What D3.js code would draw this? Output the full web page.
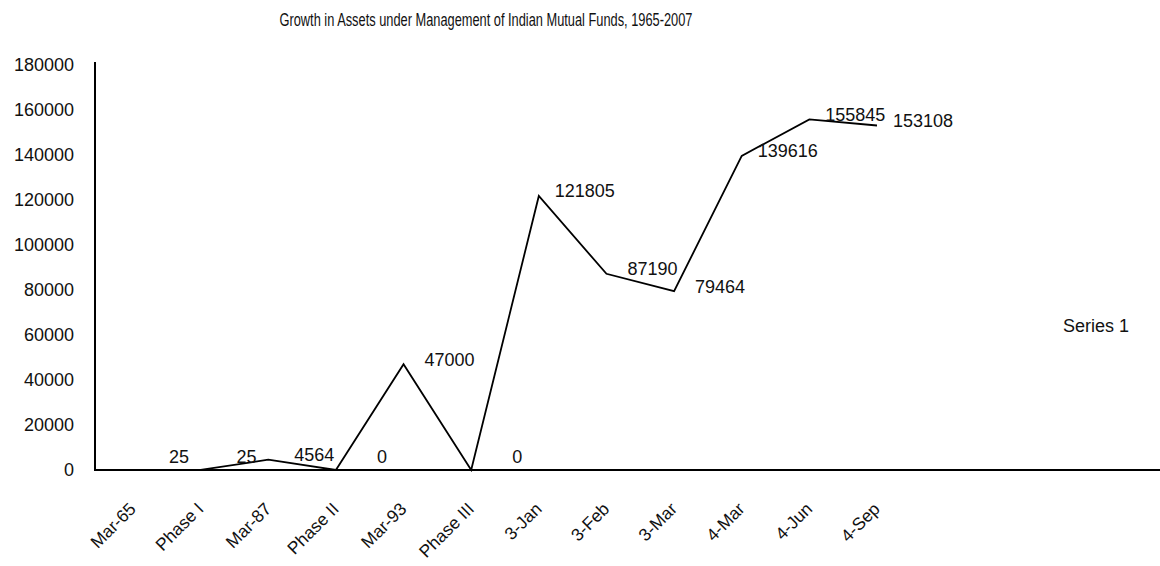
<!DOCTYPE html>
<html lang="en">

<head>
   <meta charset="UTF-8">
   <title>Growth in Assets under Management of Indian Mutual Funds</title>
   <script src="https://d3js.org/d3.v7.min.js"></script>
   <style>
      body { margin: 0; background: #fff; }
      text { font-family: 'Liberation Sans', Arial, Helvetica, sans-serif; fill: #111; }
   </style>
</head>

<body>
   <script>

      // chart data
      const categories = ['Mar-65', 'Phase I', 'Mar-87', 'Phase II', 'Mar-93', 'Phase III',
         '3-Jan', '3-Feb', '3-Mar', '4-Mar', '4-Jun', '4-Sep'];
      const aum = [25, 25, 4564, 0, 47000, 0, 121805, 87190, 79464, 139616, 155845, 153108];
      const yTicks = [0, 20000, 40000, 60000, 80000, 100000, 120000, 140000, 160000, 180000];
      const seriesName = 'Series 1';
      const title = 'Growth in Assets under Management of Indian Mutual Funds, 1965-2007';

      const width = 1160, height = 566;
      const left = 95, bottom = 470;

      const svg = d3.select('body').append('svg').attr('width', width).attr('height', height);

      const x = d3.scalePoint().domain(categories).range([133, 877]);
      const y = d3.scaleLinear().domain([0, 180000]).range([bottom, 65]);

      svg.append('text')
         .attr('x', 486).attr('y', 26)
         .attr('text-anchor', 'middle')
         .attr('font-size', 17.5)
         .attr('textLength', 413)
         .attr('lengthAdjust', 'spacingAndGlyphs')
         .text(title);

      // y axis - labels only, plus the vertical line
      const yAxis = svg.append('g')
         .attr('transform', `translate(${left},0)`)
         .call(d3.axisLeft(y).tickValues(yTicks).tickSize(0).tickPadding(21).tickFormat(d3.format('d')));
      yAxis.select('.domain').remove();
      yAxis.selectAll('text').attr('font-size', 18).attr('font-family', null);

      svg.append('line')
         .attr('x1', left).attr('x2', left)
         .attr('y1', 62).attr('y2', bottom)
         .attr('stroke', '#000').attr('stroke-width', 2);

      // x axis runs across the whole width
      svg.append('line')
         .attr('x1', left - 1).attr('x2', width)
         .attr('y1', bottom).attr('y2', bottom)
         .attr('stroke', '#000').attr('stroke-width', 2);

      svg.append('g').selectAll('text')
         .data(categories)
         .join('text')
         .attr('transform', d => `translate(${x(d) + 4},510) rotate(-45)`)
         .attr('text-anchor', 'end')
         .attr('font-size', 17.5)
         .text(d => d);

      const points = categories.map((c, i) => ({ cat: c, v: aum[i] }));

      const line = d3.line().x(d => x(d.cat)).y(d => y(d.v));

      svg.append('path')
         .datum(points)
         .attr('d', line)
         .attr('fill', 'none')
         .attr('stroke', '#000')
         .attr('stroke-width', 1.8);

      // value labels sit up and to the right of each point, kept off the axis
      svg.append('g').selectAll('text')
         .data(points)
         .join('text')
         .attr('x', d => x(d.cat) + 46)
         .attr('y', d => Math.min(y(d.v) - 5, bottom - 13))
         .attr('dy', '0.35em')
         .attr('text-anchor', 'middle')
         .attr('font-size', 18)
         .text(d => d.v);

      svg.append('text')
         .attr('x', 1063).attr('y', 332)
         .attr('font-size', 18)
         .text(seriesName);

   </script>
</body>

</html>
